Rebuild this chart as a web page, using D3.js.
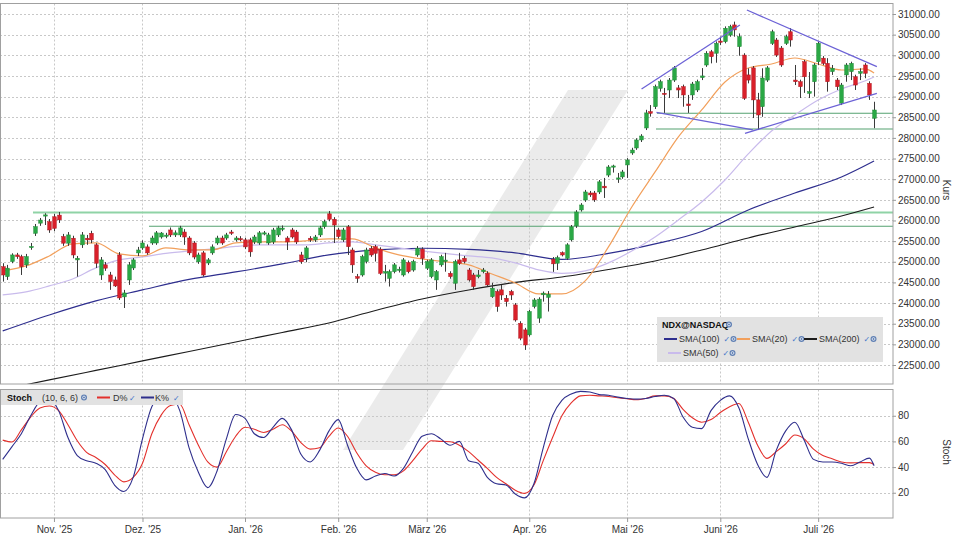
<!DOCTYPE html>
<html><head><meta charset="utf-8">
<script src="https://cdn.jsdelivr.net/npm/d3@7"></script>
<style>body{margin:0;background:#fff}svg{display:block;font-family:"Liberation Sans",Arial,sans-serif}</style>
</head><body><svg id="c" width="960" height="540"></svg>
<script>
// ---------------- DATA ----------------
const firstDay = "2025-10-17";
const holidays = ["2025-11-27","2025-12-25","2026-01-01","2026-01-19","2026-02-16","2026-04-03","2026-05-25","2026-06-19","2026-07-03"];
const monthNames = ["Jan.","Feb.","März","Apr.","Mai","Juni","Juli","Aug.","Sep.","Okt.","Nov.","Dez."];
const priceTicks = [22500,23000,23500,24000,24500,25000,25500,26000,26500,27000,27500,28000,28500,29000,29500,30000,30500,31000];
const stochTicks = [20,40,60,80];

const opens = [24880,24640,25005,25165,25125,24925,25350,25690,25935,26110,25970,26090,26130,25610,25450,25570,25045,25410,25570,25690,25410,24680,24925,24680,24560,25165,24150,24560,24850,25215,25335,25360,25455,25455,25600,25630,25770,25650,25650,25720,25575,25455,25000,25215,24970,25215,25455,25575,25575,25720,25530,25560,25530,25530,25480,25455,25690,25455,25480,25650,25790,25575,25770,25720,25165,25090,25570,25530,25650,25850,26160,26030,25770,25530,25845,25285,24640,24680,25005,25325,25365,25305,24725,24600,24760,24800,24680,24980,24800,25165,25305,24845,24640,24560,24925,25010,24720,24480,25045,25085,24800,24680,24640,24760,24720,24155,24280,24320,24115,24280,23955,23510,23350,23230,23915,23635,24200,24140,25060,24965,25220,25085,25530,25870,26255,26495,26665,26665,26690,26830,27100,27300,27030,27055,27345,27635,27755,27950,28240,28635,28755,29200,29080,29160,29400,29210,29240,28820,29040,29160,29460,29765,30085,30050,30345,30330,30490,30735,30210,30005,29525,29695,28920,28755,29400,30290,30370,30175,30290,30570,29400,29360,29845,29080,29360,29845,29930,29805,29605,29400,28840,29525,29605,29480,29565,29765,29320,28475];
const highs = [24965,24925,25205,25215,25170,25190,25455,25915,26060,26175,26035,26160,26205,25675,25720,25630,25140,25720,25650,25750,25450,25115,24995,24755,24640,25235,24320,24995,25090,25360,25520,25420,25630,25745,25720,25700,25830,25760,25870,25790,25620,25500,25220,25260,25090,25420,25630,25630,25700,25770,25620,25620,25580,25580,25650,25745,25745,25700,25820,25870,25880,25620,25820,25770,25240,25380,25620,25650,25870,26020,26230,26080,25820,25820,25890,25340,24705,25170,25340,25380,25410,25350,24925,24810,24970,24880,25090,25030,25050,25380,25350,25050,25090,24800,25170,25215,24770,25050,25215,25140,24850,24730,24800,24850,24770,24490,24330,24440,24195,24320,24000,23560,23400,23835,24120,24140,24280,24290,25115,25150,25250,25450,25890,26250,26420,26740,26715,26715,26980,27030,27340,27350,27150,27225,27510,27760,27990,28090,28680,28795,29290,29410,29210,29450,29740,29280,29290,29040,29355,29410,29690,30100,30130,30335,30450,30700,30740,30815,30530,30050,29685,29740,29090,29685,29740,30620,30420,30225,30500,30660,29765,29410,29890,29595,29810,30330,29980,29930,29765,29450,29330,29810,29845,29530,29685,29810,29370,28875];
const lows = [24520,24560,24965,25070,24680,24850,25290,25625,25870,25890,25700,25740,25940,25385,25385,25085,24640,25335,25410,25450,24850,24560,24780,24320,24390,24075,23880,24440,24800,25140,25290,25170,25410,25410,25560,25570,25600,25600,25600,25410,25160,25060,24950,24640,24920,25170,25410,25410,25530,25650,25490,25500,25310,25120,25430,25410,25640,25410,25430,25600,25740,25285,25560,25430,24950,24990,25480,25480,25600,25800,25980,25455,25560,25480,25165,24730,24490,24640,24960,25120,25005,24680,24520,24400,24720,24740,24640,24720,24760,25120,24925,24800,24600,24320,24880,24760,24590,24320,24925,24960,24520,24320,24600,24720,24400,24125,23790,24075,23915,24075,23550,23100,22865,23190,23870,23520,24035,23795,24755,24800,25130,25045,25490,25820,26215,26450,26570,26450,26640,26545,27050,27160,26910,27010,27030,27590,27710,27900,28190,28515,28700,29120,28605,28965,29355,28965,28755,28605,28920,29110,29400,29720,29805,29820,30250,30290,30450,30450,29990,28920,29320,28480,28190,28510,29355,30250,29960,29720,30250,30210,29280,28965,29090,28965,29000,29765,29760,29120,29525,29160,28795,29360,29400,29160,29400,29445,28920,28235];
const closes = [24680,24845,25165,25125,24880,25125,25370,25850,26010,26135,25770,25810,26015,25450,25650,25165,25085,25650,25530,25530,24965,25045,24845,24520,24415,24125,24245,24925,25045,25285,25455,25215,25575,25700,25695,25645,25650,25700,25820,25600,25215,25115,25165,24680,25045,25360,25575,25455,25650,25700,25575,25550,25360,25240,25600,25700,25700,25650,25770,25820,25815,25480,25600,25480,25000,25335,25530,25600,25820,25970,26030,25890,25610,25770,25365,24925,24600,25125,25285,25165,25205,24720,24760,24760,24925,24820,25045,24760,25005,25325,25085,25005,25045,24760,25125,25040,24640,25005,24965,25005,24560,24400,24680,24800,24440,24360,23915,24195,24035,24195,23590,23150,22985,23795,24075,24095,24240,24215,24950,25100,25165,25410,25845,26205,26375,26690,26620,26500,26935,26790,27295,27320,27030,27175,27465,27705,27950,28045,28605,28595,29240,29360,29055,29400,29695,29160,29040,28780,29305,29360,29500,30050,29965,30290,30315,30655,30695,30615,30450,28960,29400,28920,28555,29450,29695,30570,30005,29765,30450,30370,29360,29240,29480,29120,29765,30290,29805,29360,29685,29240,29280,29765,29805,29280,29605,29565,29040,28675];

// moving averages, read at sampled trading-day indices
const sma5Idx = [0,5,10,15,20,25,30,35,40,45,50,55,60,65,70,75,80,85,90,95,100,105,110,115,120,125,130,135,140,145,150,155,160,165,170,175,180,185,187];
const sma20 = [24778,24899,25141,25432,25456,25190,25141,25335,25286,25286,25456,25480,25480,25504,25553,25553,25335,25165,25069,24996,24923,24705,24487,24221,24221,24536,25359,26327,27175,28022,28676,29354,29693,29790,29935,29790,29644,29669,29572];
const sma50 = [24197,24270,24415,24584,24851,25044,25117,25202,25262,25311,25371,25408,25408,25408,25456,25480,25408,25335,25262,25202,25141,25093,24972,24802,24717,24778,24972,25262,25601,26013,26449,26981,27611,28168,28555,28918,29185,29378,29475];
const sma10Idx = [0,10,20,30,40,50,60,70,80,90,100,110,120,130,140,150,160,170,180,187];
const sma100 = [23325,23712,24052,24318,24572,24754,24948,25165,25286,25327,25299,25214,25056,25202,25432,25734,26255,26666,27054,27441];
const sma200 = [21907,22139,22369,22599,22829,23059,23289,23519,23822,24100,24318,24500,24633,24814,25020,25286,25577,25843,26110,26328];

// stochastic (10,6,6), read every second trading day
const stochIdx = [0,2,4,6,8,10,12,14,16,18,20,22,24,26,28,30,32,34,36,38,40,42,44,46,48,50,52,54,56,58,60,62,64,66,68,70,72,74,76,78,80,82,84,86,88,90,92,94,96,98,100,102,104,106,108,110,112,114,116,118,120,122,124,126,128,130,132,134,136,138,140,142,144,146,148,150,152,154,156,158,160,162,164,166,168,170,172,174,176,178,180,182,184,186,187];
const stochK = [46,56,66,80,91,93,84,63,49,45,43,38,26,21,32,62,87,95,95,84,55,36,24,37,62,81,78,66,63,71,78,69,50,44,53,68,77,57,39,30,33,35,33,39,52,64,66,62,57,60,45,43,32,27,26,19,16,27,55,80,92,97,99,98.5,96.5,96,94.5,93.5,93,93.5,95,96,93.5,79,71,70,84,92,95.5,86,62,42,32,53,68,75,61,46,44,44,43,41,44,47,41];
const stochD = [61,59.5,69,79,86,87.6,84,73,60.5,51.5,47.5,42,34,28.5,32,43,66,80.5,88,89,73,57,44,40,52,64,71,69.5,67,69.5,73,68,59,54,55,64,70.5,64,51,41,36,34,34,37,45,54,60.5,60,59.7,57,52,45.5,39,32,27,22,19.5,26,45,63,80,90,95.5,96,95.5,95,94,93.2,92.5,93.5,95.5,95.5,93.5,85,78.5,75,77,82.5,87,89.5,75,57,46.8,52,58,65,62,54,49,46.5,44,43.3,43.5,43.5,42];

// drawn trend lines [index, price] and horizontal levels
const trendLines = [
  [[137.1,29184],[158.2,30734]],
  [[159.7,31097],[187.6,29724]],
  [[140.3,28620],[161.0,28192]],
  [[159.3,28112],[187.6,29080]]
];
const levels = [
  {from:6.5, price:26190, c:"#8fd3a6", w:2},
  {from:31.4, price:25860, c:"#55a270", w:1.2},
  {from:140.4, price:28596, c:"#55a270", w:1.2},
  {from:140.2, price:28215, c:"#55a270", w:1.2}
];

// ---------------- BUILD ----------------
const dates = [];
{
  let d = new Date(firstDay + "T12:00:00");
  const hol = new Set(holidays);
  const fmt = d3.timeFormat("%Y-%m-%d");
  while (dates.length < closes.length) {
    const wd = d.getDay();
    if (wd !== 0 && wd !== 6 && !hol.has(fmt(d))) dates.push(new Date(d));
    d.setDate(d.getDate() + 1);
  }
}
const monthTicks = [];
dates.forEach((d, i) => { if (i > 0 && d.getMonth() !== dates[i-1].getMonth()) monthTicks.push(i); });
const monthLabel = i => monthNames[dates[i].getMonth()] + " '" + String(dates[i].getFullYear()).slice(2);

const svg = d3.select("#c");
const PR = 893, MT = 3.5, MB = 384, ST = 389.5, SB = 518;
const x = d3.scaleLinear().domain([-0.58, 191.06]).range([0, PR]);
const y = d3.scaleLinear().domain([22500, 31000]).range([365, 14]);
const ys = d3.scaleLinear().domain([0, 100]).range([518.4, 390.1]);

const defs = svg.append("defs");
defs.append("clipPath").attr("id","cm").append("rect").attr("x",0).attr("y",MT).attr("width",PR).attr("height",MB-MT);
defs.append("clipPath").attr("id","cs").append("rect").attr("x",0).attr("y",ST).attr("width",PR).attr("height",SB-ST);

// watermark
svg.append("polygon").attr("points","568,90 628,90 403,450 343,450").attr("fill","#dedede").attr("opacity",0.6);

// grid
const grid = svg.append("g").attr("stroke","#c8c8c8").attr("stroke-dasharray","2,2").attr("stroke-width",1);
priceTicks.forEach(p => grid.append("line").attr("x1",0).attr("x2",PR).attr("y1",Math.round(y(p))+0.5).attr("y2",Math.round(y(p))+0.5));
stochTicks.forEach(p => grid.append("line").attr("x1",0).attr("x2",PR).attr("y1",Math.round(ys(p))+0.5).attr("y2",Math.round(ys(p))+0.5));
monthTicks.forEach(i => {
  const xx = Math.round(x(i))+0.5;
  grid.append("line").attr("x1",xx).attr("x2",xx).attr("y1",MT).attr("y2",MB);
  grid.append("line").attr("x1",xx).attr("x2",xx).attr("y1",ST).attr("y2",SB);
});

// main panel content
const gm = svg.append("g").attr("clip-path","url(#cm)");
levels.forEach(l => gm.append("line").attr("x1",x(l.from)).attr("x2",PR).attr("y1",y(l.price)).attr("y2",y(l.price)).attr("stroke",l.c).attr("stroke-width",l.w));

const line = (idx, vals, curve) => d3.line().x((d,k)=>x(idx[k])).y(d=>y(d)).curve(curve||d3.curveMonotoneX)(vals);
gm.append("path").attr("d",line(sma10Idx,sma200)).attr("fill","none").attr("stroke","#1c1c1c").attr("stroke-width",1.1);
gm.append("path").attr("d",line(sma10Idx,sma100)).attr("fill","none").attr("stroke","#2e2e8e").attr("stroke-width",1.2);
gm.append("path").attr("d",line(sma5Idx,sma50)).attr("fill","none").attr("stroke","#c9bbec").attr("stroke-width",1.2);
gm.append("path").attr("d",line(sma5Idx,sma20)).attr("fill","none").attr("stroke","#f2a05c").attr("stroke-width",1.2);

const candles = closes.map((c,i)=>({i,o:opens[i],h:highs[i],l:lows[i],c}));
const cg = gm.append("g");
cg.selectAll("line.w").data(candles).join("line").attr("class","w")
  .attr("x1",d=>Math.round(x(d.i))+0.5).attr("x2",d=>Math.round(x(d.i))+0.5)
  .attr("y1",d=>y(d.h)).attr("y2",d=>y(d.l)).attr("stroke","#3a3a3a").attr("stroke-width",1);
cg.selectAll("rect").data(candles).join("rect")
  .attr("x",d=>Math.round(x(d.i))-1.3).attr("width",3.6)
  .attr("y",d=>y(Math.max(d.o,d.c))).attr("height",d=>Math.max(1.2,Math.abs(y(d.o)-y(d.c))))
  .attr("fill",d=>d.c>=d.o?"#2aa845":"#d9202a")
  .attr("stroke",d=>d.c>=d.o?"#1f8a37":"#b01820").attr("stroke-width",0.5);

trendLines.forEach(t => gm.append("line").attr("x1",x(t[0][0])).attr("y1",y(t[0][1])).attr("x2",x(t[1][0])).attr("y2",y(t[1][1])).attr("stroke","#6c62d6").attr("stroke-width",1.3));

// stoch panel content
const gs = svg.append("g").attr("clip-path","url(#cs)");
const sline = (vals, curve) => d3.line().x((d,k)=>x(stochIdx[k])).y(d=>ys(d)).curve(curve)(vals);
gs.append("path").attr("d",sline(stochD,d3.curveMonotoneX)).attr("fill","none").attr("stroke","#e3302c").attr("stroke-width",1.1);
gs.append("path").attr("d",sline(stochK,d3.curveMonotoneX)).attr("fill","none").attr("stroke","#2f2f8c").attr("stroke-width",1.1);

// frames
svg.append("rect").attr("x",0.5).attr("y",MT).attr("width",PR-0.5).attr("height",MB-MT).attr("fill","none").attr("stroke","#a0a0a0");
svg.append("rect").attr("x",0.5).attr("y",ST).attr("width",PR-0.5).attr("height",SB-ST).attr("fill","none").attr("stroke","#a0a0a0");

// axes
const txt = "#333";
const ay = svg.append("g").attr("transform",`translate(${PR},0)`)
  .call(d3.axisRight(y).tickValues(priceTicks).tickFormat(d3.format(".2f")).tickSize(3).tickPadding(2));
const as = svg.append("g").attr("transform",`translate(${PR},0)`)
  .call(d3.axisRight(ys).tickValues(stochTicks).tickSize(3).tickPadding(2));
const ax = svg.append("g").attr("transform",`translate(0,${SB})`)
  .call(d3.axisBottom(x).tickValues(monthTicks).tickFormat(monthLabel).tickSize(4).tickPadding(4));
[ay,as,ax].forEach(g=>{
  g.select(".domain").remove();
  g.selectAll("line").attr("stroke","#999");
  g.selectAll("text").attr("fill",txt).style("font-size","10px").style("font-family","'Liberation Sans',Arial,sans-serif");
});
svg.append("text").attr("transform","translate(943,190) rotate(90)").attr("text-anchor","middle").attr("fill",txt).style("font-size","10px").text("Kurs");
svg.append("text").attr("transform","translate(943,452) rotate(90)").attr("text-anchor","middle").attr("fill",txt).style("font-size","10px").text("Stoch");

// legend helpers
const globe = (g,cx,cy)=>{g.append("circle").attr("cx",cx).attr("cy",cy).attr("r",3).attr("fill","#5f7fb3");g.append("circle").attr("cx",cx).attr("cy",cy).attr("r",1.4).attr("fill","none").attr("stroke","#fff").attr("stroke-width",0.7);};
const check = (g,cx,cy)=>g.append("text").attr("x",cx).attr("y",cy+3).attr("fill","#3f74c9").style("font-size","8px").style("font-family","DejaVu Sans").text("✓");

// main legend
const lg = svg.append("g");
lg.append("rect").attr("x",657).attr("y",317).attr("width",226).attr("height",45).attr("fill","#e2e2e2");
lg.append("text").attr("x",662).attr("y",327.5).style("font-size","9px").style("font-weight","bold").attr("fill","#111").text("NDX@NASDAQ");
globe(lg,729,324.5);
const items = [
  {c:"#2e2e8e",t:"SMA(100)",x:664,y:339},
  {c:"#f2a05c",t:"SMA(20)",x:737,y:339},
  {c:"#1c1c1c",t:"SMA(200)",x:804,y:339},
  {c:"#c9bbec",t:"SMA(50)",x:668,y:353}
];
items.forEach(it=>{
  lg.append("line").attr("x1",it.x).attr("x2",it.x+13).attr("y1",it.y).attr("y2",it.y).attr("stroke",it.c).attr("stroke-width",2);
  const t = lg.append("text").attr("x",it.x+15).attr("y",it.y+3).style("font-size","9px").attr("fill","#333").text(it.t);
  const w = t.node().getComputedTextLength();
  check(lg,it.x+15+w+4,it.y);
  globe(lg,it.x+15+w+14,it.y);
});

// stoch legend
const sl = svg.append("g");
sl.append("rect").attr("x",1).attr("y",390).attr("width",182).attr("height",15).attr("fill","#e2e2e2");
sl.append("text").attr("x",7).attr("y",401).style("font-size","9px").style("font-weight","bold").attr("fill","#111").text("Stoch");
sl.append("text").attr("x",42).attr("y",401).style("font-size","9px").attr("fill","#333").text("(10, 6, 6)");
globe(sl,84,397.5);
sl.append("line").attr("x1",97).attr("x2",110).attr("y1",397.5).attr("y2",397.5).attr("stroke","#e3302c").attr("stroke-width",2);
sl.append("text").attr("x",113).attr("y",401).style("font-size","9px").attr("fill","#333").text("D%");
check(sl,129,397.5);
sl.append("line").attr("x1",141).attr("x2",154).attr("y1",397.5).attr("y2",397.5).attr("stroke","#2f2f8c").attr("stroke-width",2);
sl.append("text").attr("x",155).attr("y",401).style("font-size","9px").attr("fill","#333").text("K%");
check(sl,173,397.5);
</script></body></html>
